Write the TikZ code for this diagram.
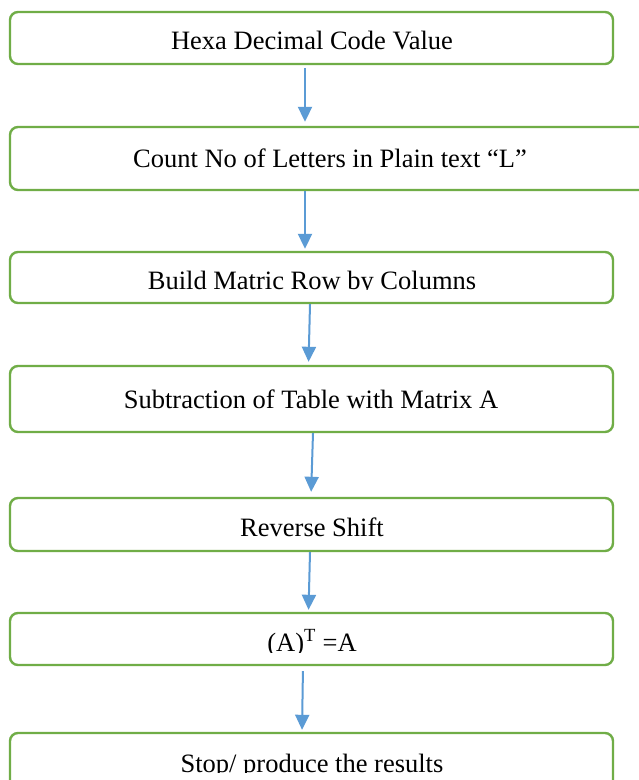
\documentclass[tikz,border=0pt]{standalone}
\usepackage{fontspec}
\setmainfont{Liberation Serif}
\usetikzlibrary{arrows.meta}
\definecolor{boxgreen}{RGB}{112,173,71}
\definecolor{arrowblue}{RGB}{91,155,213}
\begin{document}
\begin{tikzpicture}[x=1pt,y=-1pt,
  stepbox/.style={draw=boxgreen, line width=2.4pt, rounded corners=8pt, inner sep=0pt, fill=white},
  steptext/.style={anchor=base, inner sep=0pt, font=\fontsize{26.5}{30}\selectfont},
  flow/.style={draw=arrowblue, line width=2pt, -{Triangle[length=15pt,width=14pt]}}]
\useasboundingbox[fill=white] (0,0) rectangle (639,780);
% boxes
\node[stepbox, minimum width=603pt, minimum height=52pt] (b1) at (311.5,38) {};
\node[stepbox, minimum width=640pt, minimum height=63pt] (b2) at (330,158.5) {};
\node[stepbox, minimum width=603pt, minimum height=51pt] (b3) at (311.5,277.5) {};
\node[stepbox, minimum width=603pt, minimum height=66pt] (b4) at (311.5,399) {};
\node[stepbox, minimum width=603pt, minimum height=53pt] (b5) at (311.5,524.5) {};
\node[stepbox, minimum width=603pt, minimum height=52pt] (b6) at (311.5,639) {};
\node[stepbox, minimum width=603pt, minimum height=67pt] (b7) at (311.5,766.5) {};
% texts
\node[steptext] (t1) at (312,49) {Hexa Decimal Code Value};
\node[steptext] (t2) at (330,167) {Count No of Letters in Plain text “L”};
\begin{scope}
  \clip (0,240) rectangle (639,289.5);
  \node[steptext] (t3) at (312,289) {Build Matric Row by Columns};
\end{scope}
\node[steptext] (t4) at (311,408) {Subtraction of Table with Matrix A};
\node[steptext] (t5) at (312,536) {Reverse Shift};
\begin{scope}
  \clip (0,600) rectangle (639,652);
  \node[steptext] (t6) at (312,651) {(A)\textsuperscript{T} =A};
\end{scope}
\begin{scope}
  \clip (0,735) rectangle (639,772.5);
  \node[steptext] (t7) at (312,772) {Stop/ produce the results};
\end{scope}
% arrows
\draw[flow, shorten <=3pt, shorten >=4pt] ([xshift=-6.5pt]b1.south) -- ([xshift=-25pt]b2.north);
\draw[flow, shorten <=0pt, shorten >=2pt] ([xshift=-25pt]b2.south) -- ([xshift=-6.5pt]b3.north);
\draw[flow, shorten <=0pt, shorten >=3pt] ([xshift=-1.5pt]b3.south) -- ([xshift=-3pt]b4.north);
\draw[flow, shorten <=0pt, shorten >=5pt] ([xshift=1.5pt]b4.south) -- ([xshift=-0.5pt]b5.north);
\draw[flow, shorten <=0pt, shorten >=2pt] ([xshift=-1.5pt]b5.south) -- ([xshift=-3pt]b6.north);
\draw[flow, shorten <=5pt, shorten >=2pt] ([xshift=-8.5pt]b6.south) -- ([xshift=-9.5pt]b7.north);
\end{tikzpicture}
\end{document}
